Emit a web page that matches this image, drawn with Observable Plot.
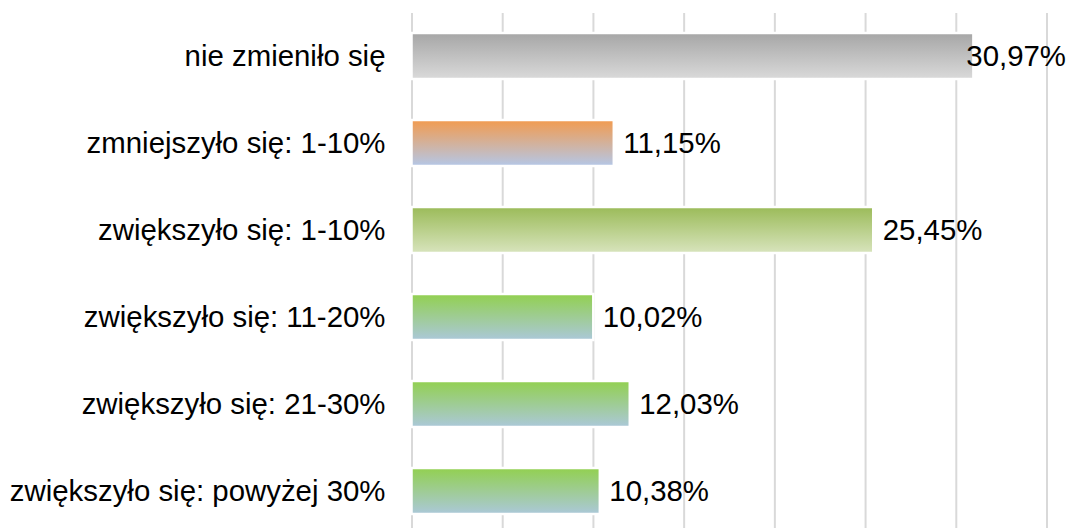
<!DOCTYPE html>
<html>
<head>
<meta charset="utf-8">
<script src="https://cdn.jsdelivr.net/npm/d3@7"></script>
<script src="https://cdn.jsdelivr.net/npm/@observablehq/plot@0.6"></script>
<style>
  html, body { margin: 0; padding: 0; background: #fff; }
  svg { display: block; }
</style>
</head>
<body>
<div id="chart"></div>
<script>
const categories = [
  "nie zmieniło się",
  "zmniejszyło się: 1-10%",
  "zwiększyło się: 1-10%",
  "zwiększyło się: 11-20%",
  "zwiększyło się: 21-30%",
  "zwiększyło się: powyżej 30%"
];
const values = [30.97, 11.15, 25.45, 10.02, 12.03, 10.38];
const gradTop = ["#a6a6a6", "#f29b4f", "#9bbb59", "#92d050", "#92d050", "#92d050"];
const gradBottom = ["#dadada", "#b4c7e7", "#d8e4bd", "#abc8d9", "#abc8d9", "#abc8d9"];
const xTicks = [0, 5, 10, 15, 20, 25, 30, 35];

const data = categories.map((c, i) => ({
  cat: c,
  value: values[i],
  grad: `url(#grad${i})`,
  label: values[i].toFixed(2).replace(".", ",") + "%"
}));

const fits = d => d.value < 28;
const fs = 29.4;

const chart = Plot.plot({
  width: 1067,
  height: 528,
  marginLeft: 411.5,
  marginRight: 20.5,
  marginTop: 13,
  marginBottom: 0,
  style: { fontFamily: "'Liberation Sans', Arial, sans-serif", fontSize: fs + "px", color: "#000", background: "#fff" },
  x: { domain: [0, 35], axis: null },
  y: { domain: categories, paddingInner: 0.468, paddingOuter: 0.18, align: 0.6, label: null },
  color: { type: "identity" },
  marks: [
    Plot.ruleX(xTicks, { stroke: "#d9d9d9", strokeWidth: 2 }),
    Plot.barX(data, { x: "value", y: "cat", fill: "grad", stroke: "#fff", strokeWidth: 2.5 }),
    Plot.axisY({ tickSize: 0, tickPadding: 26.5, fontSize: fs, label: null }),
    Plot.text(data.filter(fits), { x: "value", y: "cat", text: "label", textAnchor: "start", dx: 9, fontSize: fs, fill: "#000" }),
    Plot.text(data.filter(d => !fits(d)), { frameAnchor: "right", y: "cat", text: "label", textAnchor: "end", dx: 19, fontSize: fs, fill: "#000" })
  ]
});

const defs = d3.select(chart).insert("defs", ":first-child");
categories.forEach((c, i) => {
  const g = defs.append("linearGradient")
    .attr("id", `grad${i}`)
    .attr("x1", 0).attr("y1", 0).attr("x2", 0).attr("y2", 1);
  g.append("stop").attr("offset", "0%").attr("stop-color", gradTop[i]);
  g.append("stop").attr("offset", "100%").attr("stop-color", gradBottom[i]);
});

document.getElementById("chart").appendChild(chart);
</script>
</body>
</html>
